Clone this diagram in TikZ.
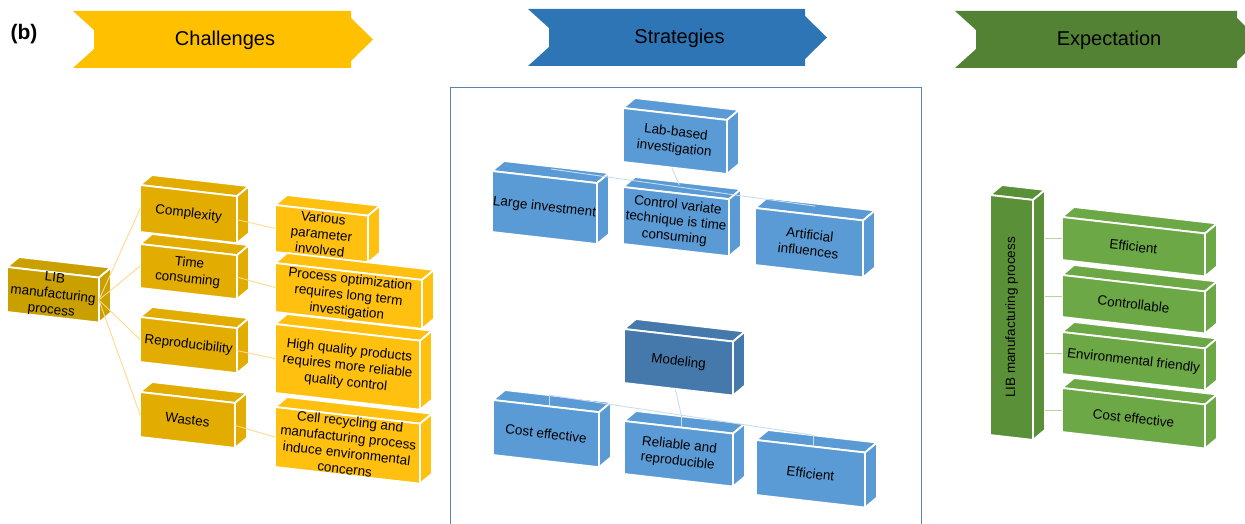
\documentclass[tikz,border=0pt]{standalone}
\usepackage{fontspec}
\setmainfont{Liberation Sans}
\usetikzlibrary{calc}

\definecolor{headgold}{HTML}{FFC000}
\definecolor{headblue}{HTML}{2E75B6}
\definecolor{headgreen}{HTML}{548235}
\definecolor{goldlib}{HTML}{C9A000}
\definecolor{gold}{HTML}{E2AD00}
\definecolor{goldlight}{HTML}{FFC00F}
\definecolor{bluebox}{HTML}{5B9BD5}
\definecolor{bluedark}{HTML}{4679AB}
\definecolor{greenbox}{HTML}{6CA845}
\definecolor{greendark}{HTML}{5A9138}
\definecolor{linegold}{HTML}{FFD88A}
\definecolor{lineblue}{HTML}{C9DDF2}
\definecolor{linegreen}{HTML}{B4D79C}
\definecolor{framecol}{HTML}{5B84B1}

% 3D box: [node options]{name}{x}{y}{width}{height}{colour}{text}
\newcommand{\cuboid}[8][rotate=-6.5]{%
  \filldraw[face,fill=#7] (#3,#4) -- ({#3+#5},{#4+0.115*#5}) -- ({#3+#5+12},{#4+0.115*#5-10}) -- ({#3+12},{#4-10}) -- cycle;
  \filldraw[face,fill=#7] ({#3+#5},{#4+0.115*#5}) -- ({#3+#5+12},{#4+0.115*#5-10}) -- ({#3+#5+12},{#4+0.115*#5+#6-10}) -- ({#3+#5},{#4+0.115*#5+#6}) -- cycle;
  \filldraw[face,fill=#7] (#3,#4) -- ({#3+#5},{#4+0.115*#5}) -- ({#3+#5},{#4+0.115*#5+#6}) -- (#3,{#4+#6}) -- cycle;
  \node[boxtext,minimum width=#5pt,minimum height=#6pt,#1] (#2) at ({#3+#5/2},{#4+#6/2+0.0575*#5}) {#8};
  \coordinate (#2-r) at ({#3+#5+12},{#4+0.115*#5+#6/2-10});
}

% header band: {name}{left}{body end}{top}{colour}{text}
\newcommand{\chevron}[6]{%
  \fill[#5] (#2,#4) -- (#3,#4) -- (#3,{#4+7}) -- ({#3+22},{#4+28.5}) -- (#3,{#4+50}) -- (#3,{#4+57}) -- (#2,{#4+57}) -- ({#2+21},{#4+38}) -- ({#2+21},{#4+19}) -- cycle;
  \node[headtext] (#1) at ({(#2+#3)/2+13},{#4+29}) {#6};
}

\begin{document}
\begin{tikzpicture}
[x=1pt,y=-1pt,
 face/.style={draw=white,line width=1.8pt,line join=round},
 boxtext/.style={font=\fontsize{13.5}{16}\selectfont,align=center,inner sep=0pt},
 headtext/.style={font=\fontsize{20}{24}\selectfont},
 goldline/.style={draw=linegold,line width=0.9pt},
 blueline/.style={draw=lineblue,line width=0.9pt},
 greenline/.style={draw=linegreen,line width=0.9pt}]

\useasboundingbox (0,0) rectangle (1245,524);

\node[font=\bfseries\fontsize{21}{24}\selectfont] (tag) at (24,34) {(b)};

%headers
\chevron{chal}{73}{351}{11}{headgold}{Challenges}
\chevron{strat}{528}{805}{9}{headblue}{Strategies}
\chevron{expect}{955}{1237}{11}{headgreen}{Expectation}

%challenges
\cuboid{lib}{7}{267}{92}{45}{goldlib}{LIB\\manufacturing\\process}
\cuboid{cplx}{140}{185}{97}{47}{gold}{Complexity}
\cuboid{time}{140}{244}{97}{44}{gold}{Time\\consuming}
\cuboid{repro}{140}{317}{97}{45}{gold}{Reproducibility}
\cuboid{waste}{140}{392}{95}{45}{gold}{Wastes}

\cuboid{various}{275}{205}{93}{47}{goldlight}{Various\\parameter\\involved}
\cuboid{optim}{275}{263}{147}{49}{goldlight}{Process optimization\\requires long term\\investigation}
\cuboid{quality}{275}{324}{145}{69}{goldlight}{High quality products\\requires more reliable\\quality control}
\cuboid{recyc}{275}{407}{145}{60}{goldlight}{Cell recycling and\\manufacturing process\\induce environmental\\concerns}

\foreach \to in {cplx,time,repro,waste}
\draw[goldline] (lib.east) -- (\to.west);

\foreach \from/\to in {cplx/various,time/optim,repro/quality,waste/recyc}
\draw[goldline] (\from.east) -- (\to.west);

%strategies
\draw[framecol,line width=0.9pt] (450,530) -- (450,87) -- (921,87) -- (921,530);

\cuboid{lab}{623}{108}{104}{54}{bluebox}{Lab-based\\investigation}
\cuboid{large}{492}{171}{105}{61}{bluebox}{Large investment}
\cuboid{ctrl}{623}{187}{106}{57}{bluebox}{Control variate\\technique is time\\consuming}
\cuboid{artif}{755}{208}{108}{57}{bluebox}{Artificial\\influences}

\draw[blueline] (lab.south) -- ([shift={(0,-8)}]ctrl.north);
\draw[blueline] ([shift={(3,-8)}]large.north) -- ([shift={(3,-8)}]artif.north);

\cuboid{model}{624}{329}{109}{54}{bluedark}{Modeling}
\cuboid{cost}{493}{400}{106}{55}{bluebox}{Cost effective}
\cuboid{rely}{624}{421}{109}{53}{bluebox}{Reliable and\\reproducible}
\cuboid{effic}{756}{440}{109}{55}{bluebox}{Efficient}

\draw[blueline] (model.south) -- ([shift={(0,-11)}]rely.north);
\draw[blueline] ([shift={(0,-11)}]cost.north) -- ([shift={(0,-11)}]effic.north);
\foreach \to in {cost,rely,effic}
\draw[blueline] ([shift={(0,-11)}]\to.north) -- (\to.north);

%expectation
\cuboid[rotate=90]{libv}{990}{195}{43}{240}{greendark}{LIB manufacturing process}
\cuboid{geff}{1062}{217}{143}{43}{greenbox}{Efficient}
\cuboid{gctrl}{1062}{275}{143}{42}{greenbox}{Controllable}
\cuboid{genv}{1062}{332}{143}{42}{greenbox}{Environmental friendly}
\cuboid{gcost}{1062}{388}{143}{44}{greenbox}{Cost effective}

\foreach \to in {geff,gctrl,genv,gcost}
\draw[greenline] (\to.west) -- (\to.west -| libv-r);

\end{tikzpicture}
\end{document}
